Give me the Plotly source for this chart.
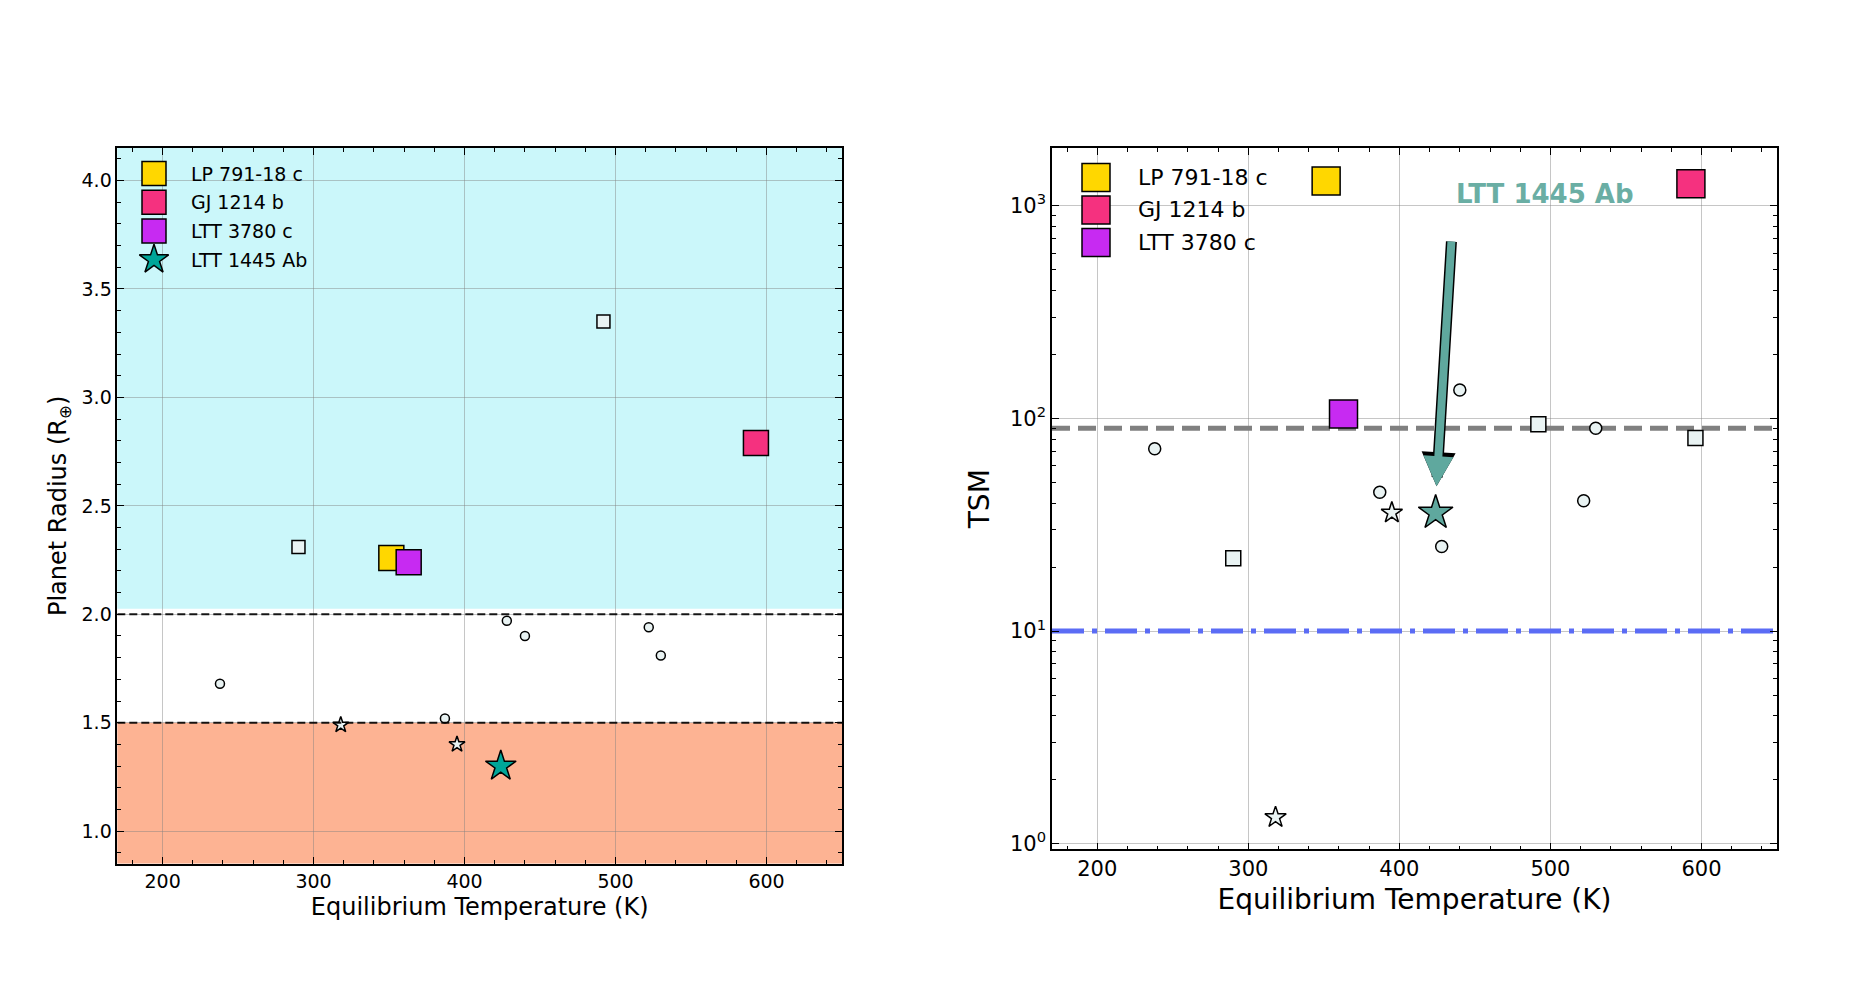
import math
import plotly.graph_objects as go

W, H = 1852, 1003
PAD_X, PAD_Y = 8, 6  # offset of the page body

# named planets
names = ["LP 791-18 c", "GJ 1214 b", "LTT 3780 c", "LTT 1445 Ab"]
colors = ["#ffd700", "#f5317f", "#c72af2", "#00a699"]
named_teq = [351.5, 593, 363, 424]
named_rp = [2.26, 2.79, 2.24, 1.30]
named_tsm = [1310, 1270, 105, 36]

# other planets
circ_teq = [238, 387, 428, 440, 522, 530]
circ_rp = [1.68, 1.52, 1.97, 1.90, 1.94, 1.81]
circ_tsm = [72, 45, 25, 136, 41, 90]

sq_teq_left = [290, 492]
sq_rp = [2.31, 3.35]
sq_teq_right = [290, 492, 596]
sq_tsm = [22, 94, 81]

star_teq = [318, 395]
star_rp = [1.49, 1.40]
star_tsm = [1.33, 36]

tsm_cut_high = 90
tsm_cut_low = 10
rp_lines = [2.0, 1.5]

tsm_tickvals = [1, 10, 100, 1000]
tsm_ticktext = ["10<sup>0</sup>", "10<sup>1</sup>", "10<sup>2</sup>", "10<sup>3</sup>"]

FONT = "DejaVu Sans"
GRID = "rgba(128,128,128,0.45)"
PALE = "#e9f3f3"
TEAL2 = "#5fa89e"

fig = go.Figure()

def mk(symbol, size, color):
    return dict(symbol=symbol, size=size, color=color, line=dict(color="black", width=1.5))

# ---- left panel ----
fig.add_trace(go.Scatter(x=circ_teq, y=circ_rp, mode="markers", marker=mk("circle", 9, PALE),
                         xaxis="x", yaxis="y", showlegend=False))
fig.add_trace(go.Scatter(x=sq_teq_left, y=sq_rp, mode="markers", marker=mk("square", 13, PALE),
                         xaxis="x", yaxis="y", showlegend=False))
fig.add_trace(go.Scatter(x=star_teq, y=star_rp, mode="markers", marker=mk("star", 12, PALE),
                         xaxis="x", yaxis="y", showlegend=False))
for i in range(4):
    sym = "star" if i == 3 else "square"
    size = 23 if i == 3 else 25
    fig.add_trace(go.Scatter(x=[named_teq[i]], y=[named_rp[i]], mode="markers",
                             marker=mk(sym, size, colors[i]), xaxis="x", yaxis="y", showlegend=False))
for v in rp_lines:
    fig.add_trace(go.Scatter(x=[170, 650], y=[v, v], mode="lines",
                             line=dict(color="rgba(0,0,0,0.9)", width=2, dash="8px,4px"),
                             xaxis="x", yaxis="y", showlegend=False))

# ---- right panel ----
fig.add_trace(go.Scatter(x=[170, 650], y=[tsm_cut_high] * 2, mode="lines",
                         line=dict(color="#808080", width=5, dash="18px,8px"),
                         xaxis="x2", yaxis="y2", showlegend=False))
fig.add_trace(go.Scatter(x=[170, 650], y=[tsm_cut_low] * 2, mode="lines",
                         line=dict(color="#5b6cf5", width=5, dash="32px,8px,5px,8px"),
                         xaxis="x2", yaxis="y2", showlegend=False))
fig.add_trace(go.Scatter(x=circ_teq, y=circ_tsm, mode="markers", marker=mk("circle", 12, PALE),
                         xaxis="x2", yaxis="y2", showlegend=False))
fig.add_trace(go.Scatter(x=sq_teq_right, y=sq_tsm, mode="markers", marker=mk("square", 15, PALE),
                         xaxis="x2", yaxis="y2", showlegend=False))
fig.add_trace(go.Scatter(x=star_teq, y=star_tsm, mode="markers", marker=mk("star", 16, PALE),
                         xaxis="x2", yaxis="y2", showlegend=False))
for i in range(4):
    sym = "star" if i == 3 else "square"
    size = 26 if i == 3 else 28
    col = TEAL2 if i == 3 else colors[i]
    fig.add_trace(go.Scatter(x=[named_teq[i]], y=[named_tsm[i]], mode="markers",
                             marker=mk(sym, size, col), xaxis="x2", yaxis="y2", showlegend=False))

# ---- hand-made legends (pixel overlay axis) ----
annotations = []
def legend(x_key, y0, step, x_text, fsize, keysize, n):
    for i in range(n):
        sym = "star" if i == 3 else "square"
        ks = keysize - 2 if i == 3 else keysize
        fig.add_trace(go.Scatter(x=[x_key], y=[y0 + i * step], mode="markers",
                                 marker=mk(sym, ks, colors[i]), xaxis="x3", yaxis="y3",
                                 showlegend=False, hoverinfo="skip"))
        annotations.append(dict(x=x_text, y=y0 + i * step, xref="x3", yref="y3", text=names[i],
                                showarrow=False, xanchor="left", yanchor="middle",
                                font=dict(family=FONT, size=fsize, color="black")))

legend(154, 172.7, 28.9, 189, 19, 24, 4)
legend(1096, 176.7, 32.7, 1136, 22, 28, 3)

# arrow + label on the right panel
arrow_tip = (424.6, 48)
arrow_tail = (434.5, 690)
for colr, wid, asz in [("black", 11, 0.62), (TEAL2, 8, 0.75)]:
    annotations.append(dict(x=arrow_tip[0], y=math.log10(arrow_tip[1]), ax=arrow_tail[0],
                            ay=math.log10(arrow_tail[1]), xref="x2", yref="y2", axref="x2", ayref="y2",
                            showarrow=True, arrowhead=2, arrowwidth=wid, arrowsize=asz,
                            arrowcolor=colr, text=""))
annotations.append(dict(x=496.7, y=math.log10(1138), xref="x2", yref="y2", text="<b>LTT 1445 Ab</b>",
                        showarrow=False, font=dict(family=FONT, size=26, color="#6aaea4")))

shapes = [
    dict(type="rect", xref="x domain", yref="y", x0=0, x1=1, y0=2.025, y1=4.15,
         fillcolor="#cbf7fa", line=dict(width=0), layer="below"),
    dict(type="rect", xref="x domain", yref="y", x0=0, x1=1, y0=0.85, y1=1.5,
         fillcolor="#fdb393", line=dict(width=0), layer="below"),
]

def common_ax(tsize):
    return dict(ticks="inside", mirror="allticks", showline=True, linecolor="black", linewidth=1.5,
                ticklen=7, tickwidth=1.2, tickcolor="black", showgrid=True, gridcolor=GRID, gridwidth=1,
                zeroline=False, tickfont=dict(family=FONT, size=tsize, color="black"))

def px_x(v):
    return (v - PAD_X) / W

def px_y(v):
    return 1 - (v - PAD_Y) / H

fig.update_layout(
    width=W, height=H, autosize=False, margin=dict(l=0, r=0, t=0, b=0),
    paper_bgcolor="white", plot_bgcolor="rgba(0,0,0,0)", showlegend=False,
    font=dict(family=FONT, color="black"),
    xaxis=dict(domain=[px_x(117.3), px_x(842)], range=[170, 650], anchor="y", dtick=100, tick0=0,
               minor=dict(dtick=20, ticks="inside", ticklen=4, tickcolor="black", showgrid=False),
               title=dict(text="Equilibrium Temperature (K)", font=dict(family=FONT, size=24), standoff=7),
               **common_ax(19)),
    yaxis=dict(domain=[px_y(867.7), px_y(147)], range=[0.85, 4.15], anchor="x", dtick=0.5, tick0=0,
               tickformat=".1f",
               minor=dict(dtick=0.1, ticks="inside", ticklen=4, tickcolor="black", showgrid=False),
               title=dict(text="Planet Radius (R<sub>⊕</sub>)", font=dict(family=FONT, size=24), standoff=8),
               **common_ax(19)),
    xaxis2=dict(domain=[px_x(1052), px_x(1777)], range=[170, 650], anchor="y2", dtick=100, tick0=0,
                minor=dict(dtick=20, ticks="inside", ticklen=4, tickcolor="black", showgrid=False),
                title=dict(text="Equilibrium Temperature (K)", font=dict(family=FONT, size=28), standoff=9),
                **common_ax(21)),
    yaxis2=dict(domain=[px_y(853.3), px_y(147)], type="log", range=[-0.027, 3.272], anchor="x2",
                tickvals=tsm_tickvals, ticktext=tsm_ticktext,
                minor=dict(dtick="D1", ticks="inside", ticklen=4, tickcolor="black", showgrid=False),
                title=dict(text="TSM", font=dict(family=FONT, size=28), standoff=12),
                **common_ax(21)),
    xaxis3=dict(domain=[0, 1], range=[PAD_X, W + PAD_X], visible=False, anchor="y3", fixedrange=True),
    yaxis3=dict(domain=[0, 1], range=[H + PAD_Y, PAD_Y], visible=False, anchor="x3", fixedrange=True),
    shapes=shapes,
    annotations=annotations,
)

fig.write_html("out.html")
